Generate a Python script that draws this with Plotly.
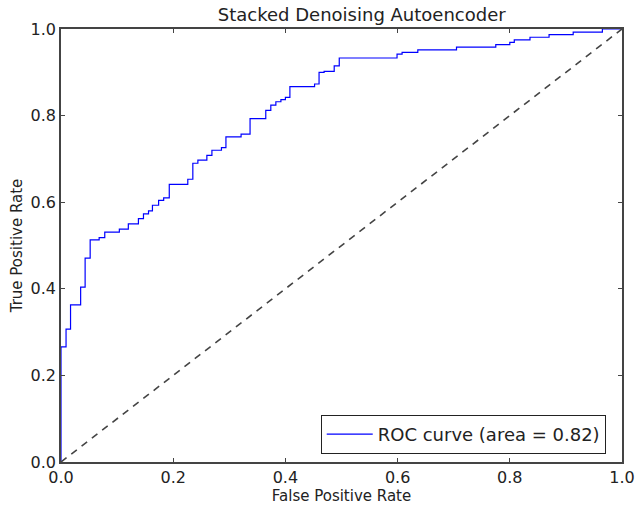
import plotly.graph_objects as go

fpr = [0.0, 0.0, 0.009, 0.017, 0.035, 0.043, 0.052, 0.068, 0.078, 0.104, 0.120, 0.138, 0.147,
       0.156, 0.163, 0.174, 0.183, 0.193, 0.226, 0.235, 0.244, 0.260, 0.269, 0.286, 0.294,
       0.321, 0.337, 0.365, 0.374, 0.383, 0.392, 0.400, 0.408, 0.452, 0.460, 0.469, 0.487,
       0.496, 0.599, 0.608, 0.636, 0.705, 0.775, 0.800, 0.808, 0.836, 0.870, 0.913, 0.965, 1.0]
tpr = [0.0, 0.266, 0.307, 0.363, 0.404, 0.471, 0.513, 0.518, 0.531, 0.538, 0.550, 0.562, 0.573,
       0.580, 0.593, 0.604, 0.610, 0.641, 0.653, 0.690, 0.697, 0.708, 0.720, 0.726, 0.751,
       0.757, 0.793, 0.812, 0.824, 0.832, 0.837, 0.842, 0.867, 0.873, 0.900, 0.902, 0.915,
       0.933, 0.942, 0.946, 0.952, 0.958, 0.964, 0.969, 0.975, 0.981, 0.987, 0.993, 1.0, 1.0]
roc_auc = 0.82
diag = [0.0, 1.0]

title = "Stacked Denoising Autoencoder"
xlabel = "False Positive Rate"
ylabel = "True Positive Rate"
ticks = [0.0, 0.2, 0.4, 0.6, 0.8, 1.0]
tick_text = ["0.0", "0.2", "0.4", "0.6", "0.8", "1.0"]

fig = go.Figure()
fig.add_trace(go.Scatter(x=fpr, y=tpr, mode="lines", line=dict(color="#0000ff", width=1.2, shape="hv"),
                         name="ROC curve (area = %0.2f)" % roc_auc))
fig.add_trace(go.Scatter(x=diag, y=diag, mode="lines", line=dict(color="#444444", width=1.6, dash="7px,6px"),
                         showlegend=False))

axis_common = dict(range=[0, 1], tickvals=ticks, ticktext=tick_text, ticks="inside", ticklen=4,
                   tickcolor="#444", showline=True, linecolor="#444", linewidth=1.5, mirror="ticks",
                   showgrid=False, zeroline=False, automargin=False,
                   tickfont=dict(size=16, color="#222"))

fig.update_layout(
    width=637, height=516,
    margin=dict(l=61, r=15, t=29, b=54, autoexpand=False),
    plot_bgcolor="white", paper_bgcolor="white",
    font=dict(family="DejaVu Sans", color="#222"),
    title=dict(text=title, x=0.5361, xref="paper", xanchor="center", y=0.971, yref="container",
               yanchor="middle", font=dict(size=18)),
    xaxis=dict(title=dict(text=xlabel, font=dict(size=15), standoff=4), **axis_common),
    yaxis=dict(title=dict(text=ylabel, font=dict(size=15), standoff=4), **axis_common),
    legend=dict(x=0.971, y=0.0185, xanchor="right", yanchor="bottom", bordercolor="#222", borderwidth=1,
                bgcolor="white", font=dict(size=18), itemwidth=46),
)
fig.write_html("out.html", post_script="document.body.style.margin='0';",
               config={"displayModeBar": False})
